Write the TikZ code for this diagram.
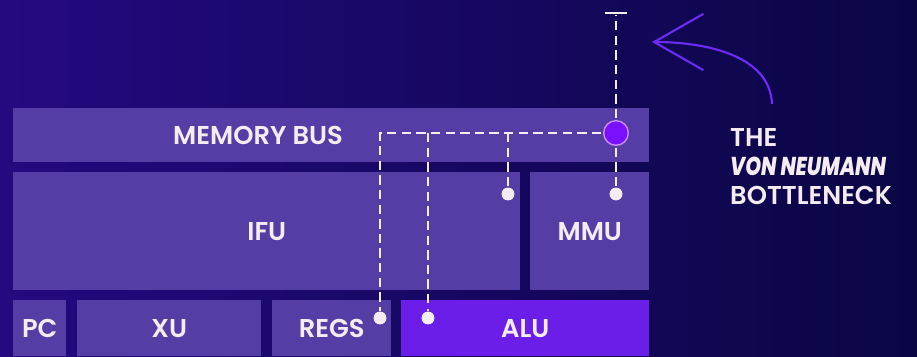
\documentclass[tikz,border=0pt]{standalone}
\usepackage{fontspec}
\setmainfont{Poppins}[UprightFont={Poppins SemiBold},BoldFont={Poppins ExtraBold},
  ItalicFont={Poppins SemiBold Italic},BoldItalicFont={Poppins ExtraBold Italic}]
\usepackage{xcolor}
\definecolor{vnbg}{RGB}{36,9,128}
\definecolor{vnbgdark}{RGB}{10,6,68}
\definecolor{vnbox}{RGB}{84,62,166}
\definecolor{vnalu}{RGB}{106,30,232}
\definecolor{vnhub}{RGB}{122,16,255}
\definecolor{vnring}{RGB}{200,140,255}
\definecolor{vnwire}{RGB}{245,236,242}
\definecolor{vnarrow}{RGB}{108,44,245}
\usetikzlibrary{arrows.meta,positioning,calc}

\begin{document}
\begin{tikzpicture}[x=0.03cm,y=-0.03cm,
  cpubox/.style={fill=vnbox,anchor=north west,inner sep=0pt,text=vnwire,
    font=\fontsize{22}{27}\selectfont},
  hub/.style={circle,fill=vnhub,draw=vnring,line width=1.2pt,minimum size=21pt,inner sep=0pt},
  dot/.style={circle,fill=vnwire,minimum size=11pt,inner sep=0pt},
  wire/.style={draw=vnwire,line width=2.3pt,dash pattern=on 8pt off 4.5pt},
  bneck/.style={draw=vnarrow,line width=1.8pt,-{Straight Barb[length=42pt,width=48pt]}},
  title/.style={text=vnwire,align=left,inner sep=0pt,font=\fontsize{22}{24.7}\selectfont}
]
  \useasboundingbox (0,0) rectangle (917,356);
  \shade[left color=vnbg,right color=vnbgdark] (0,0) rectangle (917,356);

  \node[cpubox,minimum width=19.08cm,minimum height=1.62cm] (bus) at (13,108) {};
  \node[text=vnwire,font=\fontsize{22}{27}\selectfont] (buslbl) at (258,135) {MEMORY BUS};
  \node[cpubox,minimum width=15.21cm,minimum height=3.54cm] (ifu) at (13,172) {IFU};
  \node[cpubox,minimum width=3.57cm,minimum height=3.54cm] (mmu) at (530,172) {MMU};
  \node[cpubox,minimum width=1.59cm,minimum height=1.68cm] (pc) at (13,300) {PC};
  \node[cpubox,minimum width=5.52cm,minimum height=1.68cm] (xu) at (77,300) {XU};
  \node[cpubox,minimum width=3.57cm,minimum height=1.68cm] (regs) at (272,300) {REGS};
  \node[cpubox,fill=vnalu,minimum width=7.44cm,minimum height=1.68cm] (alu) at (401,300) {ALU};

  \node[dot] (dregs) at (380,318) {};
  \node[dot] (dalu) at (428,318) {};
  \node[dot] (difu) at (508,194) {};
  \node[dot] (dmmu) at (616,194) {};
  \node[fill=vnwire,minimum width=18.7pt,minimum height=2.5pt,inner sep=0pt] (tbar) at (616,13) {};

  \draw[wire] (616,133) -- (tbar);
  \draw[wire] (616,133) -- (dmmu);
  \draw[wire] (616,133) -| (dregs);
  \draw[wire] (616,133 -| difu) -- (difu);
  \draw[wire] (616,133 -| dalu) -- (dalu);
  \node[hub] (hub) at (616,133) {};

  \coordinate (foot) at (772,104);
  \coordinate (tip) at (652,42);
  \draw[bneck] (foot) .. controls (770,55) and (705,42) .. (tip);

  \node[title,anchor=base west] (bottleneck) at (730,204)
    {THE\\\scalebox{0.78}[1]{\bfseries\itshape VON NEUMANN}\\BOTTLENECK};
\end{tikzpicture}
\end{document}
